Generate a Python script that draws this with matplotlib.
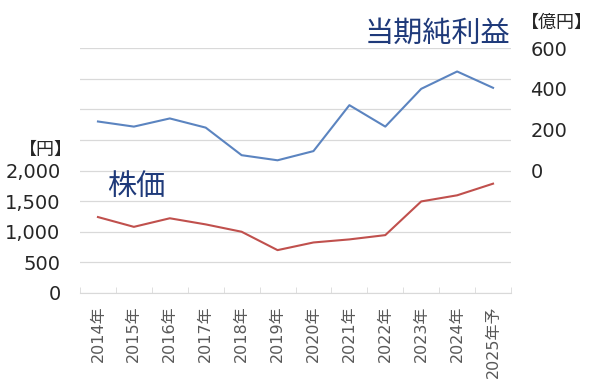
import matplotlib
matplotlib.use('Agg')
import matplotlib.pyplot as plt
import numpy as np

plt.rcParams['font.family'] = ['DejaVu Sans', 'Noto Sans CJK JP']

years = ['2014年', '2015年', '2016年', '2017年', '2018年', '2019年',
         '2020年', '2021年', '2022年', '2023年', '2024年', '2025年予']
stock_price = [1240, 1080, 1220, 1120, 1000, 700, 825, 875, 945, 1495, 1595, 1785]
net_income = [240, 215, 255, 210, 75, 50, 95, 320, 215, 400, 485, 405]

price_ticks = [0, 500, 1000, 1500, 2000]
income_ticks = [0, 200, 400, 600]

navy = '#1f3a7a'
grid_col = '#d9d9d9'
jp = ['Noto Sans CJK JP', 'DejaVu Sans']

fig = plt.figure(figsize=(6, 3.9), dpi=100)
ax = fig.add_axes([80/600, 1-293/390, 431/600, 245/390])
ax2 = ax.twinx()

x = np.arange(len(years))
ax.plot(x, stock_price, color='#c0504d', lw=1.5)
ax2.plot(x, net_income, color='#5b84c0', lw=1.5)

ax.set_xlim(-0.5, len(years) - 0.5)
ax.set_ylim(0, 4000)
ax.set_yticks(np.arange(0, 4001, 500))
ax.set_yticklabels([f'{v:,}' if v in price_ticks else '' for v in np.arange(0, 4001, 500)])
ax.grid(axis='y', color=grid_col, lw=0.9)
ax.set_axisbelow(True)

ax2.set_ylim(-600, 600)
ax2.set_yticks(income_ticks)
ax2.set_yticklabels([str(v) for v in income_ticks])

for a in (ax, ax2):
    for s in a.spines.values():
        s.set_visible(False)
ax.spines['bottom'].set_visible(True)
ax.spines['bottom'].set_color(grid_col)

ax.tick_params(axis='y', length=0, pad=14, labelsize=14, labelcolor='#262626')
ax2.tick_params(axis='y', length=0, pad=14, labelsize=14, labelcolor='#262626')

ax.set_xticks(x)
ax.set_xticklabels(years, rotation=90, fontsize=11.5, color='#595959')
ax.tick_params(axis='x', which='major', length=0, pad=9)
ax.set_xticks(np.arange(-0.5, len(years)), minor=True)
ax.tick_params(axis='x', which='minor', length=4, direction='in', color=grid_col)

fig.text(510/600, 1-34/390, '当期純利益', fontsize=21, color=navy, ha='right', va='center', family=jp)
fig.text(107/600, 1-187/390, '株価', fontsize=21, color=navy, ha='left', va='center', family=jp)
fig.text(73/600, 1-150/390, '【円】', fontsize=13, color='#262626', ha='right', va='center', family=jp)
fig.text(521/600, 1-23/390, '【億円】', fontsize=13, color='#262626', ha='left', va='center', family=jp)

fig.savefig('out.png', dpi=100)
